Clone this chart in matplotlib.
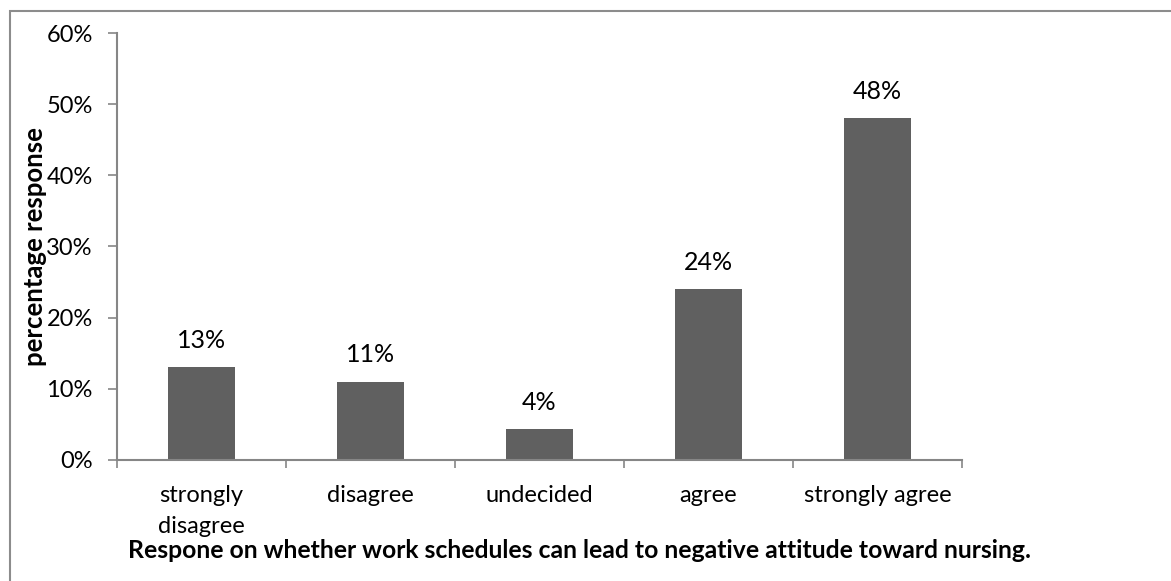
import numpy as np
import matplotlib
matplotlib.use('Agg')
import matplotlib.pyplot as plt
from matplotlib.patches import Rectangle

plt.rcParams['font.family'] = ['Lato', 'DejaVu Sans']

categories = ['strongly\ndisagree', 'disagree', 'undecided', 'agree', 'strongly agree']
percent = [13, 11, 4.3, 24, 48]
y_ticks = [0, 10, 20, 30, 40, 50, 60]

BAR_COLOR = '#606060'
AXIS_COLOR = '#868686'
FS = 17

fig = plt.figure(figsize=(11.71, 5.81), dpi=100)
ax = fig.add_axes([0.0999, 0.2083, 0.7216, 0.7349])

x = np.arange(len(categories))
ax.bar(x, percent, width=0.40, color=BAR_COLOR, zorder=2)

for xi, v in zip(x, percent):
    ax.annotate(f'{v:.0f}%', (xi, v), xytext=(0, 11), textcoords='offset points',
                ha='center', va='bottom', fontsize=18)

ax.set_xlim(-0.5, len(categories) - 0.5)
ax.set_ylim(0, 60)
ax.set_yticks(y_ticks)
ax.set_yticklabels([f'{t}%' for t in y_ticks], fontsize=FS)
ax.set_xticks(x)
ax.set_xticklabels(categories, fontsize=FS, linespacing=1.6)
ax.set_xticks(np.arange(len(categories) + 1) - 0.5, minor=True)

ax.tick_params(axis='x', which='major', length=0, pad=18)
ax.tick_params(axis='x', which='minor', length=6, width=1.2, color=AXIS_COLOR, direction='out')
ax.tick_params(axis='y', length=6.5, width=1.2, color=AXIS_COLOR, direction='out', pad=11)

for side in ['top', 'right']:
    ax.spines[side].set_visible(False)
for side in ['left', 'bottom']:
    ax.spines[side].set_color(AXIS_COLOR)
    ax.spines[side].set_linewidth(1.5)

fig.text(35 / 1171, 1 - 247 / 581, 'percentage response', rotation=90,
         ha='center', va='center', fontsize=18.5, fontweight='bold')
fig.text(579 / 1171, 1 - 551 / 581,
         'Respone on whether work schedules can lead to negative attitude toward nursing.',
         ha='center', va='center', fontsize=17.8, fontweight='bold')

# chart area outline
fig.patches.append(Rectangle((10 / 1171, -0.05), 1.1, 1 - 11 / 581 + 0.05,
                             transform=fig.transFigure, fill=False,
                             edgecolor='#8c8c8c', linewidth=1.5))

fig.savefig('out.png', dpi=100)
